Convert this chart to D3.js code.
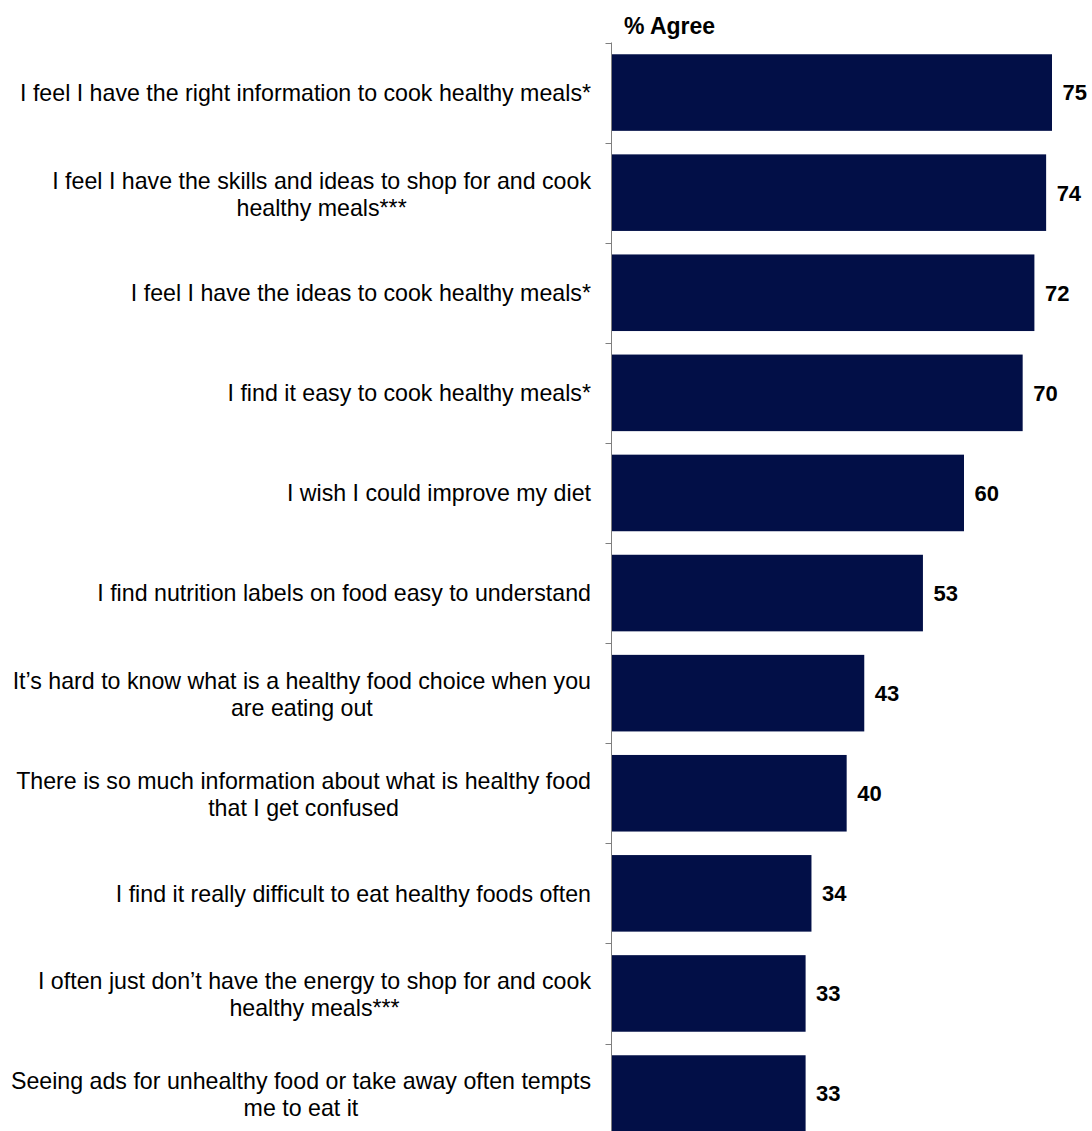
<!DOCTYPE html>
<html>
<head>
<meta charset="utf-8">
<script src="https://cdn.jsdelivr.net/npm/d3@7"></script>
<style>
  html, body { margin: 0; padding: 0; background: #fff; }
  svg { display: block; }
</style>
</head>
<body>
<script>
const categories = [
  ["I feel I have the right information to cook healthy meals*"],
  ["I feel I have the skills and ideas to shop for and cook", "healthy meals***"],
  ["I feel I have the ideas to cook healthy meals*"],
  ["I find it easy to cook healthy meals*"],
  ["I wish I could improve my diet"],
  ["I find nutrition labels on food easy to understand"],
  ["It\u2019s hard to know what is a healthy food choice when you", "are eating out"],
  ["There is so much information about what is healthy food", "that I get confused"],
  ["I find it really difficult to eat healthy foods often"],
  ["I often just don\u2019t have the energy to shop for and cook", "healthy meals***"],
  ["Seeing ads for unhealthy food or take away often tempts", "me to eat it"]
];
const values = [75, 74, 72, 70, 60, 53, 43, 40, 34, 33, 33];
const axisTitle = "% Agree";

const W = 1092, H = 1131;
const svg = d3.select("body").append("svg").attr("width", W).attr("height", H);

const ids = categories.map((c, i) => i);
const y = d3.scaleBand().domain(ids).range([42.5, 1143.6]).paddingInner(0.235).paddingOuter(0.1175);
const x = d3.scaleLinear().domain([0, 75]).range([612, 1052]);
const step = y.step();
const barColor = "#020F47";
const font = "'Liberation Sans', Arial, sans-serif";

// bars
svg.selectAll("rect.bar").data(values).join("rect")
  .attr("class", "bar")
  .attr("x", x(0))
  .attr("y", (d, i) => y(i))
  .attr("width", d => x(d) - x(0))
  .attr("height", y.bandwidth())
  .attr("fill", barColor);

// axis line + ticks at band boundaries
const axisX = 611.5;
const boundaries = ids.map(i => y(i) - step * y.paddingInner() / 2);
boundaries.push(boundaries[boundaries.length - 1] + step);
svg.append("line")
  .attr("x1", axisX).attr("x2", axisX)
  .attr("y1", boundaries[0]).attr("y2", H + 20)
  .attr("stroke", "#7f7f7f").attr("stroke-width", 1);
svg.selectAll("line.tick").data(boundaries).join("line")
  .attr("class", "tick")
  .attr("x1", axisX - 6).attr("x2", axisX)
  .attr("y1", d => Math.round(d) + 0.5).attr("y2", d => Math.round(d) + 0.5)
  .attr("stroke", "#7f7f7f").attr("stroke-width", 1);

// value labels
svg.selectAll("text.val").data(values).join("text")
  .attr("class", "val")
  .attr("x", d => x(d) + 10.5)
  .attr("y", (d, i) => y(i) + y.bandwidth() / 2)
  .attr("dy", "0.36em")
  .attr("font-family", font)
  .attr("font-weight", "bold")
  .attr("font-size", 22)
  .attr("fill", "#000")
  .text(d => d);

// category labels
const labelRight = 591;
const lineH = 27;
categories.forEach((lines, i) => {
  const g = svg.append("text")
    .attr("font-family", font)
    .attr("font-size", 23.2)
    .attr("fill", "#000");
  const cy = y(i) + y.bandwidth() / 2 + (lines.length > 1 ? 1 : 0);
  const spans = lines.map((t, k) => g.append("tspan").text(t)
    .attr("y", cy + (k - (lines.length - 1) / 2) * lineH)
    .attr("dy", "0.36em"));
  const widths = spans.map(s => s.node().getComputedTextLength());
  const maxW = d3.max(widths);
  const cx = labelRight - maxW / 2;
  spans.forEach(s => s.attr("x", cx).attr("text-anchor", "middle"));
});

// axis title
svg.append("text")
  .attr("x", 669.5).attr("y", 33.5)
  .attr("text-anchor", "middle")
  .attr("font-family", font)
  .attr("font-weight", "bold")
  .attr("font-size", 23)
  .attr("fill", "#000")
  .text(axisTitle);
</script>
</body>
</html>
